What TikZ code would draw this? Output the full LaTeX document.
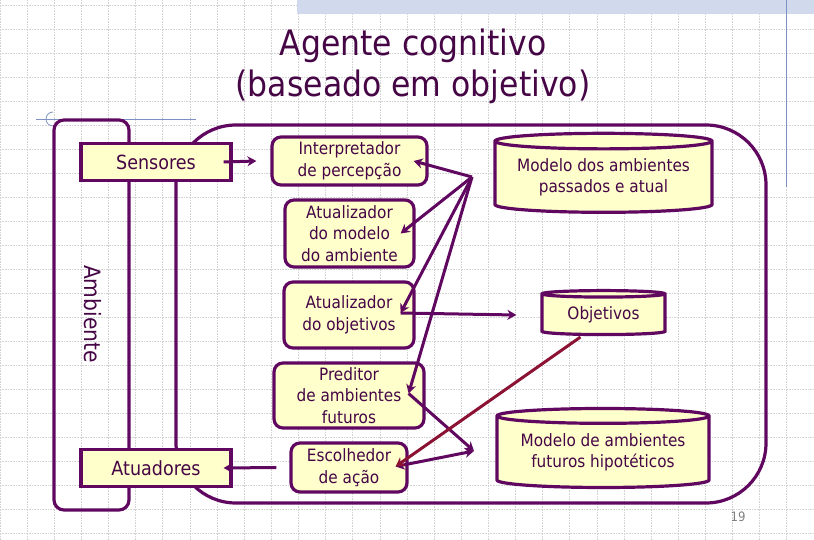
\documentclass[tikz,border=0pt]{standalone}
\usepackage{fontspec}
\setmainfont{DejaVu Sans}[FakeStretch=0.9]
\usetikzlibrary{shapes.geometric,arrows.meta}
\definecolor{plum}{RGB}{96,8,96}
\definecolor{plumtext}{RGB}{70,6,70}
\definecolor{boxyellow}{RGB}{255,255,204}
\definecolor{wine}{RGB}{140,18,52}
\definecolor{slideblue}{RGB}{125,145,195}
\definecolor{bandblue}{RGB}{208,218,236}
\definecolor{gridgray}{RGB}{210,210,210}
\tikzset{
  every node/.style={text=plumtext},
  frame/.style={draw=plum, line width=3.2pt},
  squarebox/.style={frame, fill=boxyellow, inner sep=0pt, font=\fontsize{19.5}{23}\selectfont},
  roundbox/.style={frame, fill=boxyellow, rounded corners=9pt, inner sep=0pt, align=center, font=\fontsize{17}{21.5}\selectfont},
  dbase/.style={frame, fill=boxyellow, cylinder, shape border rotate=90, aspect=0.09, inner sep=0pt, align=center, font=\fontsize{17}{21.5}\selectfont},
  link/.style={draw=plum, line width=3pt, -{Stealth[length=9pt,width=10pt]}},
  twoway/.style={link, {Stealth[length=9pt,width=10pt]}-{Stealth[length=9pt,width=10pt]}},
  redlink/.style={link, draw=wine},
  gridline/.style={gridgray, densely dotted, line width=0.6pt}
}
\begin{document}
\begin{tikzpicture}[x=1pt,y=-1pt]
\useasboundingbox (0,0) rectangle (814,540);
\foreach \k in {0,...,30} \draw[gridline] (27.13*\k,0) -- (27.13*\k,540);
\foreach \k in {0,...,22} \draw[gridline] (0,5+24*\k) -- (814,5+24*\k);
\fill[bandblue] (297,0) rectangle (814,14);
\draw[slideblue, line width=0.8pt] (786,0) -- (786,187);
\draw[slideblue, line width=0.8pt] (36,119) -- (196,119);
\draw[slideblue, line width=0.8pt] (53,126) arc[start angle=90, end angle=270, radius=7];

\node[anchor=base, font=\fontsize{35}{35}\selectfont] (title1) at (413,56) {Agente cognitivo};
\node[anchor=base, font=\fontsize{35}{35}\selectfont] (title2) at (413,97) {(baseado em objetivo)};

\draw[frame, rounded corners=10pt] (54,120) rectangle (129,510);
\draw[frame, rounded corners=60pt] (176,125) rectangle (766,503);
\node[rotate=-90, font=\fontsize{22.5}{22.5}\selectfont] (env) at (93,314) {Ambiente};

\node[squarebox, minimum width=150, minimum height=37] (sens) at (156,162) {Sensores};
\node[squarebox, minimum width=150, minimum height=37] (atua) at (156,468) {Atuadores};

\node[roundbox, minimum width=155, minimum height=48] (interp) at (349.5,161) {Interpretador\\de percepção};
\node[roundbox, minimum width=129, minimum height=67] (atmod) at (349.5,233.5) {Atualizador\\do modelo\\do ambiente};
\node[roundbox, minimum width=130, minimum height=66] (atobj) at (349,315) {Atualizador\\do objetivos};
\node[roundbox, minimum width=150, minimum height=65] (pred) at (349,395.5) {Preditor\\de ambientes\\futuros};
\node[roundbox, minimum width=116, minimum height=49] (esc) at (349,467.5) {Escolhedor\\de ação};

\node[dbase, minimum width=217, minimum height=79] (past) at (603.5,177.5) {Modelo dos ambientes\\passados e atual};
\node[dbase, minimum width=123, minimum height=44] (goals) at (603.5,315) {Objetivos};
\node[dbase, minimum width=212, minimum height=79] (fut) at (603,452.5) {Modelo de ambientes\\futuros hipotéticos};

\coordinate (hub) at (472,177);
\coordinate (fork) at (474,451);
\coordinate (predtip) at ([xshift=-17pt,yshift=2pt]pred.east);
\coordinate (esctip) at ([xshift=-13pt,yshift=1pt]esc.east);
\coordinate (objtip) at ([xshift=-15pt,yshift=2pt]atobj.east);

\draw[link] ([xshift=-9pt]sens.east) -- ([xshift=-14pt]interp.west);
\draw[link] ([xshift=-13pt]esc.west) -- ([xshift=-9pt]atua.east);
\draw[link] (hub) -- ([xshift=-15pt]interp.east);
\draw[link] (hub) -- ([xshift=-15pt]atmod.east);
\draw[link] (hub) -- (objtip);
\draw[link] (hub) -- (predtip);
\draw[link] (objtip) -- ([xshift=-24pt]goals.west);
\draw[link] (predtip) -- (fork);
\draw[twoway] (fork) -- (esctip);
\draw[redlink] ([xshift=-23pt,yshift=-22pt]goals.center) -- (esctip);

\node[text=gray, font=\fontsize{13}{13}\selectfont] (pagenum) at (738,517) {19};
\end{tikzpicture}
\end{document}
